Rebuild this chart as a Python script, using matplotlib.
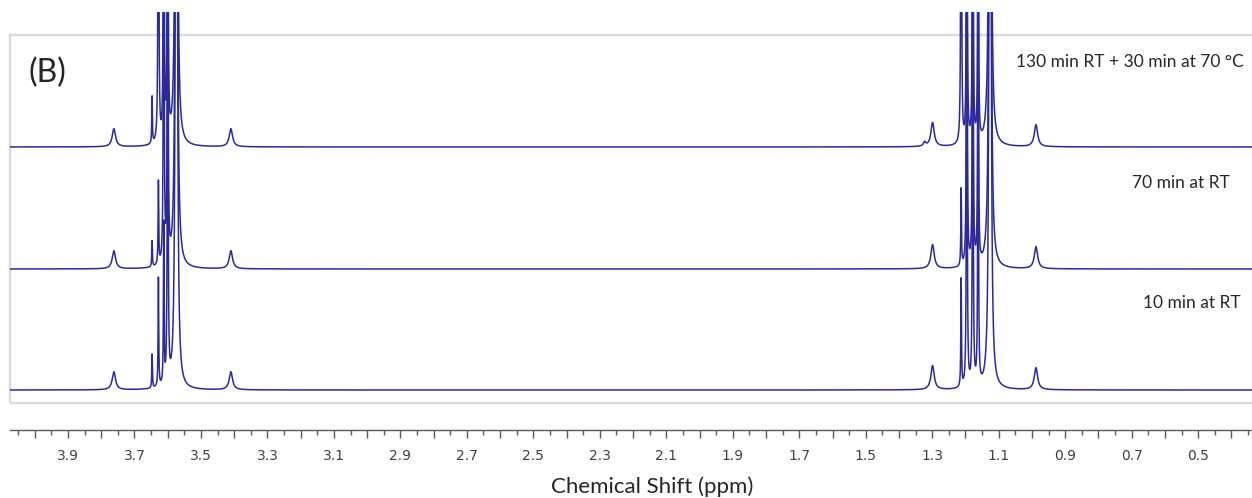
import matplotlib
matplotlib.use('Agg')
import matplotlib.pyplot as plt
import matplotlib.transforms as mtransforms
import numpy as np
from matplotlib.patches import Rectangle
from matplotlib.ticker import FixedLocator, FuncFormatter

# peak table (ppm, half width at half height in ppm)
peak_ppm = [3.762, 3.647, 3.628, 3.612, 3.600, 3.574, 3.410,
            1.323, 1.299, 1.213, 1.196, 1.178, 1.162, 1.126, 0.988]
peak_hwhm = [0.006, 0.0011, 0.0011, 0.0011, 0.0011, 0.0018, 0.006,
             0.004, 0.006, 0.0011, 0.0011, 0.0011, 0.0011, 0.0018, 0.006]

# peak heights (pixels above each baseline); tall lines run off the top
heights_10min = [18, 34, 109, 160, 600, 2000, 18,
                 0, 24, 108, 600, 600, 450, 2000, 22]
heights_70min = [18, 26, 83, 600, 600, 2000, 18,
                 0, 24, 77, 600, 600, 450, 2000, 22]
heights_heated = [18, 47, 600, 600, 600, 2000, 18,
                  4, 24, 600, 600, 600, 450, 2000, 22]

trace_labels = ["10 min at RT", "70 min at RT", "130 min RT + 30 min at 70 \u00b0C"]
tick_values = np.round(np.arange(0.4, 4.01, 0.1), 2)
minor_values = np.round(np.arange(0.35, 4.1, 0.1), 3)


def spectrum(ppm, heights):
    y = np.zeros_like(ppm)
    for c, w, h in zip(peak_ppm, peak_hwhm, heights):
        y += h * w ** 2 / ((ppm - c) ** 2 + w ** 2)
    return y


W, H = 1252, 498
fig = plt.figure(figsize=(W / 100, H / 100), dpi=100)
ax = fig.add_axes([10 / W, 68 / H, 1242 / W, 418 / H])

ppm = np.linspace(4.1, 0.3, 40000)
line_color = '#2a2a9c'
offsets = [40, 161, 283]
for heights, off in zip([heights_10min, heights_70min, heights_heated], offsets):
    ax.plot(ppm, spectrum(ppm, heights) + off, color=line_color, lw=1.1, zorder=3)

ax.set_xlim(4.0745, 0.338)
ax.set_ylim(0, 418)

# light grey frame behind the traces
trans = mtransforms.blended_transform_factory(ax.transAxes, ax.transData)
ax.add_patch(Rectangle((0, 27), 1.01, 368, transform=trans, fill=False,
                       ec='#d9d9d9', lw=1.6, clip_on=False, zorder=1))

for side in ['top', 'left', 'right']:
    ax.spines[side].set_visible(False)
ax.spines['bottom'].set_color('#595959')
ax.spines['bottom'].set_linewidth(1.0)
ax.set_yticks([])
ax.xaxis.set_major_locator(FixedLocator(tick_values))
ax.xaxis.set_minor_locator(FixedLocator(minor_values))
ax.xaxis.set_major_formatter(FuncFormatter(
    lambda v, pos: f"{v:.1f}" if int(round(v * 10)) % 2 == 1 else ""))
ax.tick_params(axis='x', which='major', length=6, width=1, color='#595959',
               direction='out', pad=8, labelsize=10, labelcolor='#404040')
ax.tick_params(axis='x', which='minor', length=3.5, width=1, color='#595959',
               direction='out')

txt_font = 'Lato'
fig.text(652 / W, 1 - 487 / H, "Chemical Shift (ppm)", ha='center', va='center',
         fontsize=16, family=txt_font, color='#262626')
fig.text(29 / W, 1 - 73 / H, "(B)", ha='left', va='center',
         fontsize=23, family=txt_font, color='#262626')

label_pos = [(1192, 303), (1181, 183), (1130, 62)]
for lab, (x, y) in zip(trace_labels, label_pos):
    fig.text(x / W, 1 - y / H, lab, ha='center', va='center',
             fontsize=12.5, family=txt_font, color='#262626')

fig.savefig('out.png', dpi=100)
